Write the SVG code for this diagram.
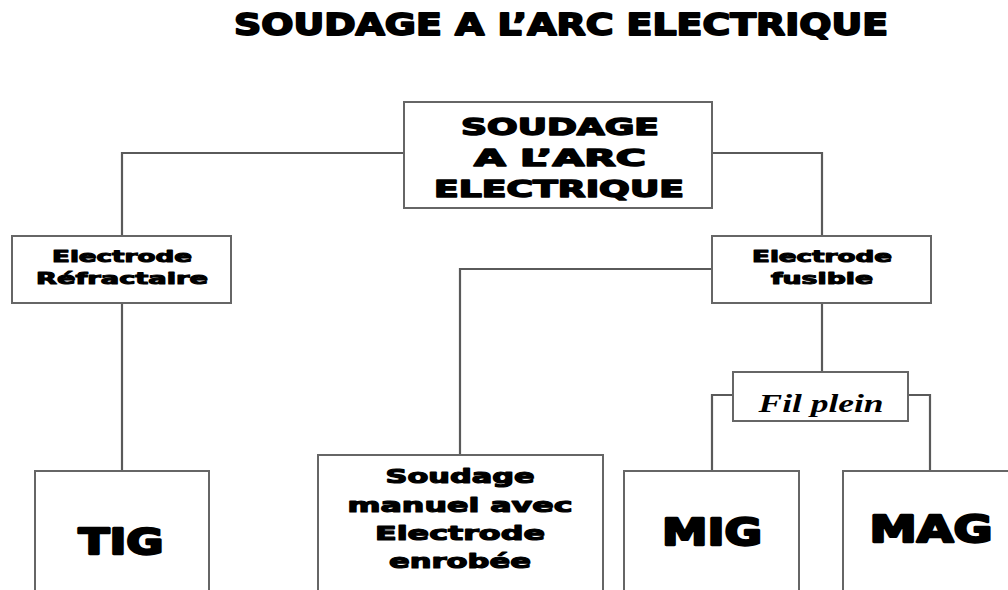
<svg xmlns="http://www.w3.org/2000/svg" width="1008" height="590" viewBox="0 0 1008 590">
<style>
.box{fill:#fff;stroke:#666;stroke-width:2}
.ln{fill:none;stroke:#5a5a5a;stroke-width:2.2}
.t{font-family:"DejaVu Sans","Liberation Sans",sans-serif;font-weight:bold;fill:#000;stroke:#000;stroke-linejoin:round;text-anchor:middle}
.s{font-family:"Liberation Serif","DejaVu Serif",serif;font-style:italic;font-weight:bold;fill:#000;text-anchor:middle}
.h1{stroke-width:1.8}
.h2{stroke-width:1.5}
.h3{stroke-width:1}
.h4{stroke-width:1.2}
.h5{stroke-width:2.4}
</style>
<rect width="1008" height="590" fill="#fff"/>
<text class="t h1" x="561" y="35" font-size="30" textLength="654" lengthAdjust="spacingAndGlyphs">SOUDAGE A L’ARC ELECTRIQUE</text>
<g id="connectors">
<polyline class="ln" points="404,153 122,153 122,236"/>
<polyline class="ln" points="712,153 822,153 822,236"/>
<line class="ln" x1="122" y1="303" x2="122" y2="471"/>
<polyline class="ln" points="712,269 460,269 460,455"/>
<line class="ln" x1="822" y1="303" x2="822" y2="372"/>
<polyline class="ln" points="733,395 712,395 712,471"/>
<polyline class="ln" points="908,395 930,395 930,471"/>
</g>
<g id="root">
<rect class="box" x="404" y="102" width="308" height="106"/>
<text class="t h2" x="560" y="135" font-size="23" textLength="198" lengthAdjust="spacingAndGlyphs">SOUDAGE</text>
<text class="t h2" x="560" y="166" font-size="23" textLength="172" lengthAdjust="spacingAndGlyphs">A L’ARC</text>
<text class="t h2" x="559" y="197" font-size="23" textLength="250" lengthAdjust="spacingAndGlyphs">ELECTRIQUE</text>
</g>
<g id="refractaire">
<rect class="box" x="12" y="236" width="219" height="67"/>
<text class="t h3" x="122" y="262" font-size="15" textLength="140" lengthAdjust="spacingAndGlyphs">Electrode</text>
<text class="t h3" x="122" y="284" font-size="15" textLength="172" lengthAdjust="spacingAndGlyphs">Réfractaire</text>
</g>
<g id="fusible">
<rect class="box" x="712" y="236" width="219" height="67"/>
<text class="t h3" x="822" y="262" font-size="15" textLength="140" lengthAdjust="spacingAndGlyphs">Electrode</text>
<text class="t h3" x="822" y="284" font-size="15" textLength="102" lengthAdjust="spacingAndGlyphs">fusible</text>
</g>
<g id="filplein">
<rect class="box" x="733" y="372" width="175" height="49"/>
<text class="s" x="821" y="412" font-size="25" textLength="125" lengthAdjust="spacingAndGlyphs">Fil plein</text>
</g>
<g id="tig">
<rect class="box" x="35" y="471" width="174" height="130"/>
<text class="t h5" x="121" y="554" font-size="36" textLength="85" lengthAdjust="spacingAndGlyphs">TIG</text>
</g>
<g id="manuel">
<rect class="box" x="318" y="455" width="285" height="146"/>
<text class="t h4" x="460" y="483" font-size="20" textLength="149" lengthAdjust="spacingAndGlyphs">Soudage</text>
<text class="t h4" x="460" y="512" font-size="20" textLength="225" lengthAdjust="spacingAndGlyphs">manuel avec</text>
<text class="t h4" x="460" y="540" font-size="20" textLength="170" lengthAdjust="spacingAndGlyphs">Electrode</text>
<text class="t h4" x="460" y="568" font-size="20" textLength="142" lengthAdjust="spacingAndGlyphs">enrobée</text>
</g>
<g id="mig">
<rect class="box" x="624" y="471" width="175" height="130"/>
<text class="t h5" x="712" y="545" font-size="37" textLength="100" lengthAdjust="spacingAndGlyphs">MIG</text>
</g>
<g id="mag">
<rect class="box" x="843" y="471" width="180" height="130"/>
<text class="t h5" x="931" y="542" font-size="37" textLength="123" lengthAdjust="spacingAndGlyphs">MAG</text>
</g>
</svg>
